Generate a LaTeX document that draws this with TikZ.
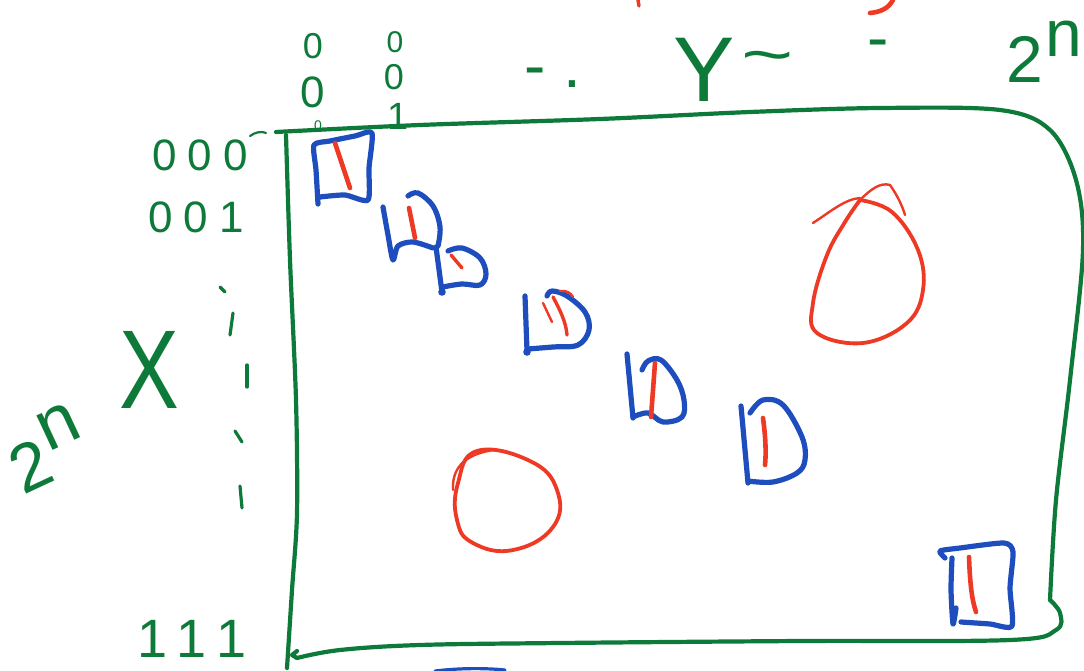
\documentclass[tikz,border=0pt]{standalone}
\usepackage{fontspec}
\setmainfont{Liberation Sans}
\definecolor{ink}{HTML}{0E7A3A}
\definecolor{pen}{HTML}{1E4DBE}
\definecolor{mark}{HTML}{EE3A24}
\begin{document}
\begin{tikzpicture}[x=1pt,y=-1pt,
  hand/.style={line width=4pt,line cap=round,line join=round},
  gline/.style={hand,draw=ink,line width=4.2pt},
  bline/.style={hand,draw=pen,line width=5.2pt},
  rline/.style={hand,draw=mark,line width=4.6pt},
  rthin/.style={hand,draw=mark,line width=2.4pt},
  lbl/.style={text=ink,inner sep=0pt,font=\fontsize{#1}{#1}\selectfont},
  lbl/.default=40]
\useasboundingbox (0,0) rectangle (1084,671);
\fill[white] (0,0) rectangle (1084,671);

% ---------- green frame ----------
\draw[gline] plot[smooth,tension=0.55] coordinates {(276,132) (420,125) (600,119) (750,112) (880,108) (1000,110) (1050,130) (1076,180) (1083,250) (1070,380) (1056,500) (1050,600)};
\draw[gline] plot[smooth,tension=0.6] coordinates {(1050,600) (1060,613) (1056,630) (1010,640) (800,641) (560,643) (420,645) (340,650) (297,658)};
\draw[gline] (297,658) -- (292,655) -- (297,651);
\draw[gline] plot[smooth,tension=0.5] coordinates {(286,135) (290,260) (296,400) (297,513) (292,590) (287,668)};
\draw[gline,line width=2.2pt] (250,136) .. controls (255,132) and (262,131) .. (266,133);

% ---------- left axis labels ----------
\node[lbl=44] (r000) at (200,155) {\addfontfeatures{LetterSpace=25}000};
\node[lbl=44] (r001) at (196,217) {\addfontfeatures{LetterSpace=25}001};
\node[lbl=54] (r111) at (192,639) {\addfontfeatures{LetterSpace=25}111};
\node[lbl=112,xscale=0.8] (xlab) at (149,370) {X};
\node[lbl=68,rotate=25] (nx) at (46,448) {2\kern4pt\raisebox{0.42em}{\fontsize{72}{72}\selectfont n}};
\draw[gline,line width=3.2pt] (220,287) -- (225,292);
\draw[gline,line width=3.2pt] (233,313) -- (230,335);
\draw[gline,line width=3.2pt] (247,365) -- (247,387);
\draw[gline,line width=3.2pt] (235,431) -- (242,442);
\draw[gline,line width=3.2pt] (240,486) -- (242,508);

% ---------- top axis labels ----------
\node[lbl=36] (c1a) at (313,46) {0};
\node[lbl=44] (c1b) at (313,92) {0};
\node[lbl=14] (c1c) at (318,126) {0};
\node[lbl=30] (c2a) at (395,42) {0};
\node[lbl=36] (c2b) at (394,77) {0};
\node[lbl=38] (c2c) at (398,116) {1};
\node[lbl=64] (dots) at (553,78) {- .};
\node[lbl=92] (ylab) at (704,70) {Y};
\node[lbl=64,xscale=1.4] (tld) at (768,64) {\char"7E};
\node[lbl=64] (dash) at (878,50) {-};
\node[lbl=66,anchor=west] (ny) at (1006,52) {2\kern3pt\raisebox{0.4em}{\fontsize{66}{66}\selectfont n}};

% ---------- red scraps at the top ----------
\draw[rline,line width=3.4pt] (638,0) -- (639,6);
\draw[rline] (893,0) .. controls (888,9) and (880,12) .. (870,13);

% ---------- blue box, top left ----------
\draw[bline] plot[smooth,tension=0.4] coordinates {(318,204) (316,170) (314,145) (330,141) (355,136) (372,133) (369,168) (368,200) (345,195) (320,197)};
\draw[rline] (335,143) -- (350,188);

% ---------- D shapes on the diagonal ----------
% D1
\draw[bline] plot[smooth,tension=0.5] coordinates {(383,207) (388,235) (393,260) (398,246) (413,242) (433,248)};
\draw[bline] plot[smooth,tension=0.6] coordinates {(408,196) (418,193) (433,206) (440,227) (438,246)};
\draw[rline] (409,208) -- (415,238);
% D2
\draw[bline] (436,247) -- (442,292);
\fill[pen] (442,292) circle (3.8pt);
\draw[bline] plot[smooth,tension=0.6] coordinates {(443,287) (462,284) (480,285) (486,274) (480,258) (462,248) (448,251)};
\draw[rline,line width=3.4pt] (451,255) -- (462,268);
% D3
\draw[bline] (525,296) -- (527,351);
\fill[pen] (527,352) circle (3.8pt);
\draw[bline] plot[smooth,tension=0.6] coordinates {(528,349) (553,347) (578,345) (589,330) (585,312) (567,296) (552,291) (547,296)};
\draw[rthin] (543,303) -- (552,322);
\draw[rline,line width=3.4pt] (553,297) .. controls (560,310) and (566,322) .. (567,335);
\draw[rthin] (560,291) .. controls (566,290) and (571,293) .. (573,297);
% D4
\draw[bline] (627,354) -- (633,418);
\draw[bline] plot[smooth,tension=0.6] coordinates {(633,417) (648,413) (663,422) (682,417) (684,400) (677,380) (661,360) (648,361) (642,370)};
\draw[rline] (655,363) -- (651,417);
% D5
\draw[bline] (741,406) -- (748,483);
\draw[bline] plot[smooth,tension=0.6] coordinates {(748,481) (773,482) (797,473) (805,460) (802,437) (783,405) (763,400) (750,413)};
\draw[rline] (763,418) .. controls (766,440) and (766,455) .. (765,465);

% ---------- blue box, bottom right ----------
\draw[bline] plot[smooth,tension=0.4] coordinates {(945,558) (940,551) (960,548) (1004,543) (1013,552) (1010,588) (1012,626) (990,624) (961,622)};
\draw[bline] plot[smooth,tension=0.4] coordinates {(952,558) (951,590) (953,624) (956,608)};
\draw[rline] (969,557) .. controls (970,585) and (972,600) .. (976,612);

% ---------- red circles ----------
\draw[rline,line width=3.8pt] plot[smooth cycle,tension=0.75] coordinates {(477,451) (530,461) (557,490) (553,527) (513,550) (473,543) (457,520) (458,483)};
\draw[rthin] (453,490) .. controls (452,470) and (462,455) .. (493,450);
\draw[rline,line width=3.8pt] plot[smooth,tension=0.65] coordinates {(860,200) (892,212) (918,250) (923,290) (907,323) (863,343) (817,333) (813,303) (827,255) (845,222) (860,200)};
\draw[rthin] (813,223) .. controls (830,212) and (845,199) .. (860,198);
\draw[rthin] (860,200) .. controls (870,190) and (880,182) .. (890,185) .. controls (897,195) and (902,205) .. (905,215);

% ---------- blue scrap at the bottom ----------
\draw[bline,line width=3.2pt] (435,671) .. controls (460,668) and (485,668) .. (505,670);
\end{tikzpicture}
\end{document}
